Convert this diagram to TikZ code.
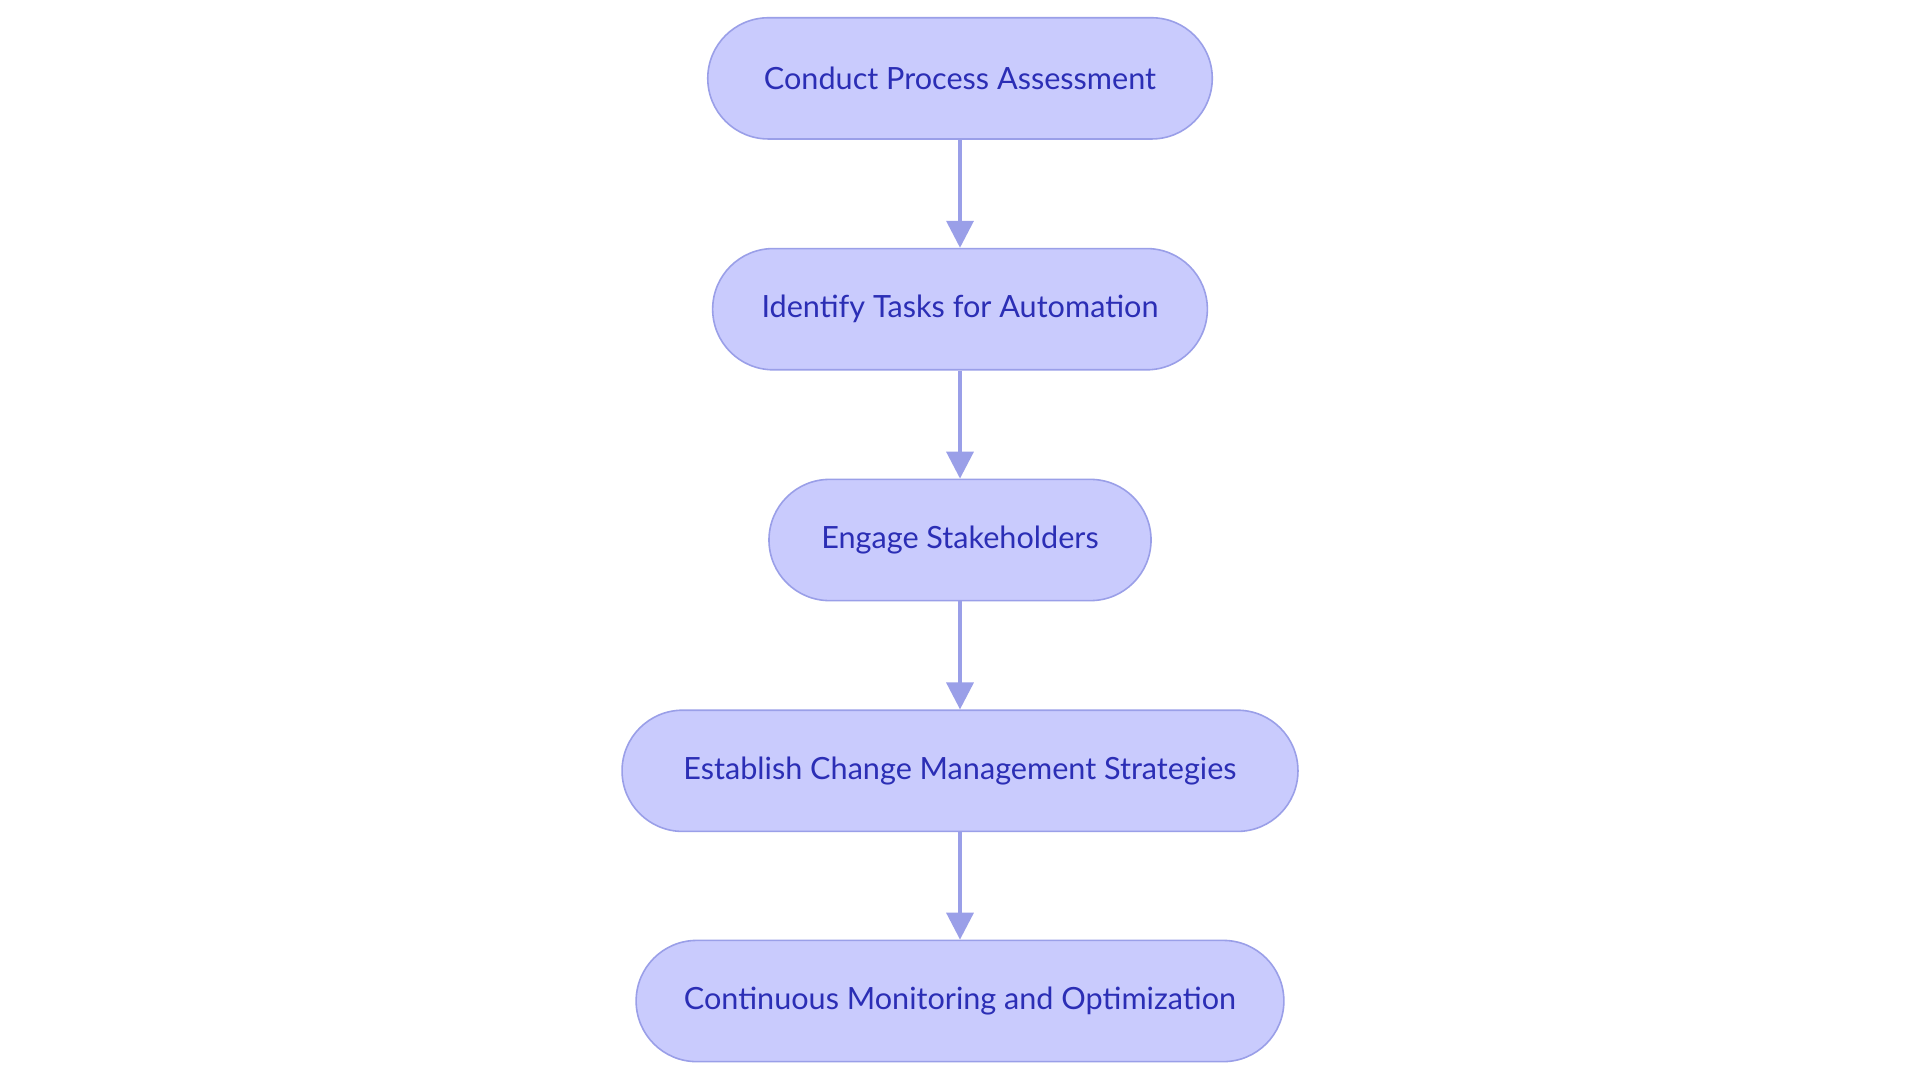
\documentclass[tikz,border=0pt]{standalone}
\usepackage{fontspec}
\setmainfont{Lato}
\usetikzlibrary{arrows.meta}
\definecolor{nfill}{HTML}{C9CBFD}
\definecolor{nline}{HTML}{9A9FE8}
\definecolor{ntext}{HTML}{2B2EB5}
\begin{document}
\begin{tikzpicture}[x=1pt,y=-1pt,
  box/.style={draw=nline,fill=nfill,line width=1.3pt,rounded corners=49.5pt,minimum height=99pt,text=ntext,font=\fontsize{25}{30}\selectfont,inner sep=0pt},
  arr/.style={draw=nline,line width=3pt,-{Triangle[length=22pt,width=22pt]}}]
\useasboundingbox[fill=white] (0,0) rectangle (1568,882);
\node[box,minimum width=412pt] (a) at (784,64) {Conduct Process Assessment};
\node[box,minimum width=404pt] (b) at (784,252.5) {Identify Tasks for Automation};
\node[box,minimum width=312pt] (c) at (784,441) {Engage Stakeholders};
\node[box,minimum width=552pt] (d) at (784,629.5) {Establish Change Management Strategies};
\node[box,minimum width=529pt] (e) at (784,817.5) {Continuous Monitoring and Optimization};
\draw[arr] (a) -- (b);
\draw[arr] (b) -- (c);
\draw[arr] (c) -- (d);
\draw[arr] (d) -- (e);
\end{tikzpicture}
\end{document}
